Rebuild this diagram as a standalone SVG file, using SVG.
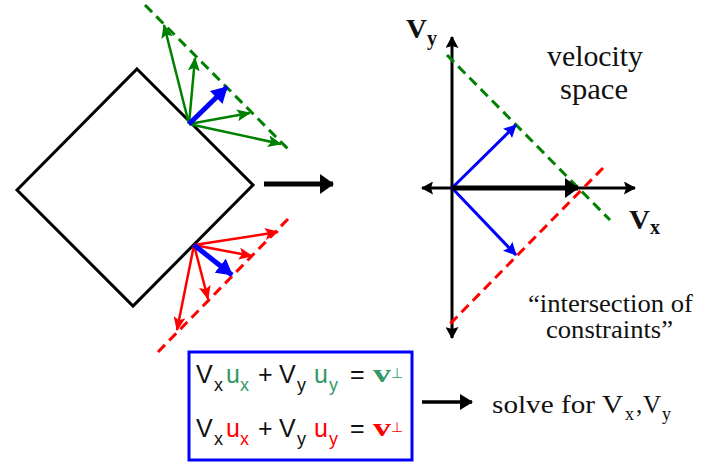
<svg xmlns="http://www.w3.org/2000/svg" width="704" height="463" viewBox="0 0 704 463">
<defs>
<marker id="mg" markerUnits="userSpaceOnUse" markerWidth="14" markerHeight="12" refX="13" refY="6" orient="auto"><path d="M0,0 L14,6 L0,12 L3,6 z" fill="#008000"/></marker>
<marker id="mr" markerUnits="userSpaceOnUse" markerWidth="14" markerHeight="12" refX="13" refY="6" orient="auto"><path d="M0,0 L14,6 L0,12 L3,6 z" fill="#ff0000"/></marker>
<marker id="mbT" markerUnits="userSpaceOnUse" markerWidth="16" markerHeight="18" refX="15" refY="9" orient="auto"><path d="M0,0 L16,9 L0,18 z" fill="#0000ff"/></marker>
<marker id="mb" markerUnits="userSpaceOnUse" markerWidth="13" markerHeight="13" refX="12" refY="6.5" orient="auto"><path d="M0,0 L13,6.5 L0,13 L2,6.5 z" fill="#0000ff"/></marker>
<marker id="mk" markerUnits="userSpaceOnUse" markerWidth="12" markerHeight="13" refX="11" refY="6.5" orient="auto"><path d="M0,0 L12,6.5 L0,13 L2,6.5 z" fill="#000"/></marker>
<marker id="mkB" markerUnits="userSpaceOnUse" markerWidth="14" markerHeight="20" refX="13" refY="10" orient="auto"><path d="M0,0 L14,10 L0,20 z" fill="#000"/></marker>
<marker id="mkS" markerUnits="userSpaceOnUse" markerWidth="13" markerHeight="16" refX="12" refY="8" orient="auto"><path d="M0,0 L13,8 L0,16 z" fill="#000"/></marker>
</defs>
<style>
.g{stroke:#008000;stroke-width:2.5;fill:none}
.r{stroke:#ff0000;stroke-width:2.5;fill:none}
.dg{stroke:#008000;stroke-width:3;stroke-dasharray:10 6;fill:none}
.dr{stroke:#ff0000;stroke-width:3;stroke-dasharray:10 6;fill:none}
.ax{stroke:#000;stroke-width:3;fill:none}
.serif{font-family:"Liberation Serif","Times New Roman",serif;fill:#111}
.sans{font-family:"Liberation Sans",Arial,sans-serif;fill:#111}
.vb{font-family:"Liberation Serif","Times New Roman",serif;font-weight:bold}
.perp{font-family:"DejaVu Sans",sans-serif}
.eg{fill:#339966}
.er{fill:#ff0000}
</style>

<g id="diamond">
<path d="M137,69 L253,185 L133,306 L17,190 Z" fill="none" stroke="#000" stroke-width="3"/>
</g>

<g id="connectors">
<!-- left top green -->
<line class="dg" x1="145" y1="5" x2="289" y2="150"/>
<line class="g" x1="189" y1="124" x2="164" y2="25" marker-end="url(#mg)"/>
<line class="g" x1="189" y1="124" x2="195" y2="58" marker-end="url(#mg)"/>
<line class="g" x1="189" y1="124" x2="250" y2="113" marker-end="url(#mg)"/>
<line class="g" x1="189" y1="124" x2="281" y2="144" marker-end="url(#mg)"/>
<line x1="189" y1="124" x2="227" y2="87" stroke="#0000ff" stroke-width="5" marker-end="url(#mbT)"/>
<!-- left bottom red -->
<line class="dr" x1="288" y1="219" x2="158" y2="352"/>
<line class="r" x1="194" y1="245" x2="278" y2="232" marker-end="url(#mr)"/>
<line class="r" x1="194" y1="245" x2="252" y2="256" marker-end="url(#mr)"/>
<line class="r" x1="194" y1="245" x2="208" y2="299" marker-end="url(#mr)"/>
<line class="r" x1="194" y1="245" x2="177" y2="330" marker-end="url(#mr)"/>
<line x1="194" y1="245" x2="232" y2="275" stroke="#0000ff" stroke-width="5" marker-end="url(#mbT)"/>
<!-- middle arrow -->
<line x1="264" y1="184" x2="333" y2="184" stroke="#000" stroke-width="5" marker-end="url(#mkB)"/>
<!-- velocity space axes -->
<line class="ax" x1="452" y1="188" x2="452" y2="37" marker-end="url(#mk)"/>
<line class="ax" x1="452" y1="188" x2="452" y2="338" marker-end="url(#mk)"/>
<line class="ax" x1="452" y1="188" x2="635" y2="188" marker-end="url(#mk)"/>
<line class="ax" x1="452" y1="188" x2="422" y2="188" marker-end="url(#mk)"/>
<line class="dg" x1="447" y1="55" x2="610" y2="220"/>
<line class="dr" x1="603" y1="168" x2="447" y2="327"/>
<line x1="452" y1="188" x2="516" y2="125" stroke="#0000ff" stroke-width="3" marker-end="url(#mb)"/>
<line x1="452" y1="188" x2="516" y2="255" stroke="#0000ff" stroke-width="3" marker-end="url(#mb)"/>
<line x1="452" y1="188" x2="578" y2="188" stroke="#000" stroke-width="5" marker-end="url(#mkB)"/>
<!-- solve arrow -->
<line x1="422" y1="402" x2="472" y2="402" stroke="#000" stroke-width="3.5" marker-end="url(#mkS)"/>
</g>

<g id="labels">
<text class="serif" x="406" y="38" font-size="27" font-weight="bold" textLength="21" lengthAdjust="spacingAndGlyphs">V</text>
<text class="serif" x="427" y="45" font-size="20" font-weight="bold">y</text>
<text class="serif" x="629" y="229" font-size="27" font-weight="bold" textLength="21" lengthAdjust="spacingAndGlyphs">V</text>
<text class="serif" x="650" y="234" font-size="20" font-weight="bold">x</text>
<text class="serif" x="547" y="66" font-size="30" textLength="96" lengthAdjust="spacingAndGlyphs">velocity</text>
<text class="serif" x="560" y="99" font-size="30" textLength="68" lengthAdjust="spacingAndGlyphs">space</text>
<text class="serif" x="528" y="312" font-size="25" textLength="165" lengthAdjust="spacingAndGlyphs">“intersection of</text>
<text class="serif" x="546" y="338" font-size="25" textLength="127" lengthAdjust="spacingAndGlyphs">constraints”</text>
</g>

<g id="equations">
<rect x="189" y="352" width="223" height="108" fill="none" stroke="#0000ff" stroke-width="3"/>
<g class="sans" font-size="25">
<text x="196" y="383">V</text><text x="214" y="391" font-size="18">x</text>
<text x="226" y="383" class="eg">u</text><text x="240" y="391" font-size="18" class="eg">x</text>
<text x="258" y="383">+</text>
<text x="279" y="383">V</text><text x="297" y="391" font-size="18">y</text>
<text x="314" y="383" class="eg">u</text><text x="329" y="391" font-size="18" class="eg">y</text>
<text x="350" y="383">=</text>
<text x="373" y="382" font-size="25" class="vb eg" textLength="18" lengthAdjust="spacingAndGlyphs">v</text>
<text x="391" y="378" font-size="14" class="perp eg">⊥</text>

<text x="196" y="437">V</text><text x="214" y="445" font-size="18">x</text>
<text x="226" y="437" class="er">u</text><text x="240" y="445" font-size="18" class="er">x</text>
<text x="258" y="437">+</text>
<text x="279" y="437">V</text><text x="297" y="445" font-size="18">y</text>
<text x="314" y="437" class="er">u</text><text x="329" y="445" font-size="18" class="er">y</text>
<text x="350" y="437">=</text>
<text x="373" y="436" font-size="25" class="vb er" textLength="18" lengthAdjust="spacingAndGlyphs">v</text>
<text x="391" y="432" font-size="14" class="perp er">⊥</text>
</g>
</g>

<g id="solve">
<text class="serif" x="492" y="413" font-size="25" textLength="131" lengthAdjust="spacingAndGlyphs">solve for V</text>
<text class="serif" x="625" y="420" font-size="18">x</text>
<text class="serif" x="636" y="413" font-size="25">,</text>
<text class="serif" x="643" y="413" font-size="25">V</text>
<text class="serif" x="662" y="420" font-size="18">y</text>
</g>
</svg>
